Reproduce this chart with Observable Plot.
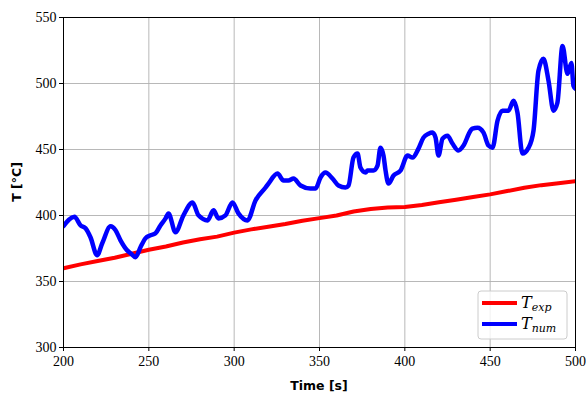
<!DOCTYPE html>
<html>
<head>
<meta charset="utf-8">
<script src="https://cdn.jsdelivr.net/npm/d3@7"></script>
<script src="https://cdn.jsdelivr.net/npm/@observablehq/plot@0.6"></script>
<style>
  html, body { margin: 0; padding: 0; background: white; }
</style>
</head>
<body>
<div id="chart"></div>
<script>
// ---- data ----
const xTicks = [200, 250, 300, 350, 400, 450, 500];
const yTicks = [300, 350, 400, 450, 500, 550];

const timeExp = [200, 210, 220, 230, 240, 250, 260, 270, 280, 290, 300, 310, 320, 330, 340, 350, 360, 370, 380, 390, 400, 410, 420, 430, 440, 450, 460, 470, 480, 490, 500];
const tempExp = [360, 363, 365.5, 368, 371, 374, 376.5, 379.5, 382, 384, 387, 389.5, 391.5, 393.5, 396, 398, 400, 403, 405, 406, 406.5, 408, 410, 412, 414, 416, 418.5, 421, 423, 424.5, 426];

const timeNum = [200, 206.4, 210, 212.9, 215.8, 219.7, 222.7, 227.6, 230.5, 233.4, 237.3, 239.3, 242.2, 245.1, 248, 251, 253.9, 256.8, 259.8, 261.5, 265.6, 270.3, 275.6, 279.1, 284.4, 287.9, 290.8, 294.9, 299, 302.5, 307.8, 312.5, 318.4, 320.1, 325.4, 328.9, 331.8, 334.8, 338.9, 344.7, 347.7, 350.6, 353.5, 357.6, 361.1, 365.2, 367, 369.9, 372.3, 374, 377, 378.1, 381.6, 384, 385.7, 387.5, 388.7, 390.4, 393.4, 397.5, 401.6, 404.5, 408, 410.9, 413.9, 416.2, 418, 419.7, 422.1, 425, 427.9, 431.4, 434.4, 438.5, 439.6, 442.6, 446.1, 449, 451.4, 454.3, 457.2, 460.7, 463.7, 466, 468.9, 472.5, 475.4, 478.3, 481.2, 484.2, 487.1, 489.4, 492.4, 495.3, 497.6, 498.8, 500];
const tempNum = [392, 399, 392.5, 390.3, 383.5, 369.9, 379, 391.8, 388.8, 381.2, 373.6, 371.4, 368.4, 375.9, 382.7, 385, 386.5, 392.5, 397.8, 401.6, 387.3, 400.1, 409.9, 400.1, 396.3, 403.9, 397.8, 400.1, 409.9, 401.6, 396.3, 411.4, 421.2, 424.2, 431.8, 426.5, 426.5, 428, 422.7, 420.4, 420.4, 428.8, 432.5, 428, 422.7, 421.2, 422.7, 443.9, 446.9, 436.3, 432.5, 434.1, 434.1, 437.8, 451.4, 445.4, 434.1, 424.2, 430.3, 434.1, 445.4, 443.9, 450.7, 459, 462, 462.8, 459, 445.4, 458.2, 460.5, 454.5, 449.2, 453, 464.3, 465.8, 466.5, 462.8, 453, 451.4, 471.8, 479.4, 479.4, 486.9, 477.9, 446.9, 451.4, 464.3, 509.6, 518.7, 502, 479.4, 485.4, 528.5, 507.3, 515.6, 498.3, 496];

const xLabel = "Time [s]";
const yLabel = "T [°C]";
const seriesNames = ["exp", "num"];
const seriesColors = ["#ff0000", "#0000ff"];

const expData = timeExp.map((t, i) => ({t, T: tempExp[i]}));
const numData = timeNum.map((t, i) => ({t, T: tempNum[i]}));

// ---- chart ----
const W = 586, H = 397;
const chart = Plot.plot({
  width: W, height: H,
  marginLeft: 63, marginRight: 11, marginTop: 17, marginBottom: 50,
  style: {fontFamily: "'Liberation Serif', serif", fontSize: "14px", background: "white", color: "black"},
  x: {domain: [200, 500]},
  y: {domain: [300, 550]},
  marks: [
    Plot.gridX(xTicks, {stroke: "#b0b0b0", strokeOpacity: 1, strokeWidth: 0.9}),
    Plot.gridY(yTicks, {stroke: "#b0b0b0", strokeOpacity: 1, strokeWidth: 0.9}),
    Plot.line(expData, {x: "t", y: "T", stroke: seriesColors[0], strokeWidth: 4, clip: true}),
    Plot.line(numData, {x: "t", y: "T", stroke: seriesColors[1], strokeWidth: 4.5, curve: "monotone-x", strokeLinejoin: "round", clip: true}),
    Plot.frame({stroke: "black", strokeWidth: 1}),
    Plot.axisX(xTicks, {tickSize: 4, tickPadding: 5, label: null, fontSize: 14}),
    Plot.axisY(yTicks, {tickSize: 4, tickPadding: 3, label: null, fontSize: 14})
  ]
});
document.getElementById("chart").appendChild(chart);

// ---- axis labels & legend ----
const svg = d3.select(chart);
svg.append("text")
  .attr("x", 319).attr("y", 390)
  .attr("text-anchor", "middle")
  .style("font-family", "'DejaVu Sans', sans-serif")
  .style("font-weight", "bold").style("font-size", "12.5px")
  .text(xLabel);
svg.append("text")
  .attr("transform", "translate(21,182) rotate(-90)")
  .attr("text-anchor", "middle")
  .style("font-family", "'DejaVu Sans', sans-serif")
  .style("font-weight", "bold").style("font-size", "12.5px")
  .text(yLabel);

const lg = svg.append("g").attr("text-anchor", "start");
lg.append("rect")
  .attr("x", 478).attr("y", 291).attr("width", 89).attr("height", 48)
  .attr("rx", 3).attr("fill", "white").attr("fill-opacity", 0.8)
  .attr("stroke", "#cccccc").attr("stroke-width", 1);
seriesNames.forEach((name, i) => {
  const y = 303 + i * 21;
  lg.append("line")
    .attr("x1", 482).attr("x2", 517).attr("y1", y).attr("y2", y)
    .attr("stroke", seriesColors[i]).attr("stroke-width", 4);
  const t = lg.append("text")
    .attr("x", 521).attr("y", y + 5)
    .attr("text-anchor", "start")
    .style("font-family", "'DejaVu Serif', serif")
    .style("font-style", "italic").style("font-size", "16px");
  t.append("tspan").text("T");
  t.append("tspan").attr("dy", 3).style("font-size", "11px").text(name);
});
</script>
</body>
</html>
